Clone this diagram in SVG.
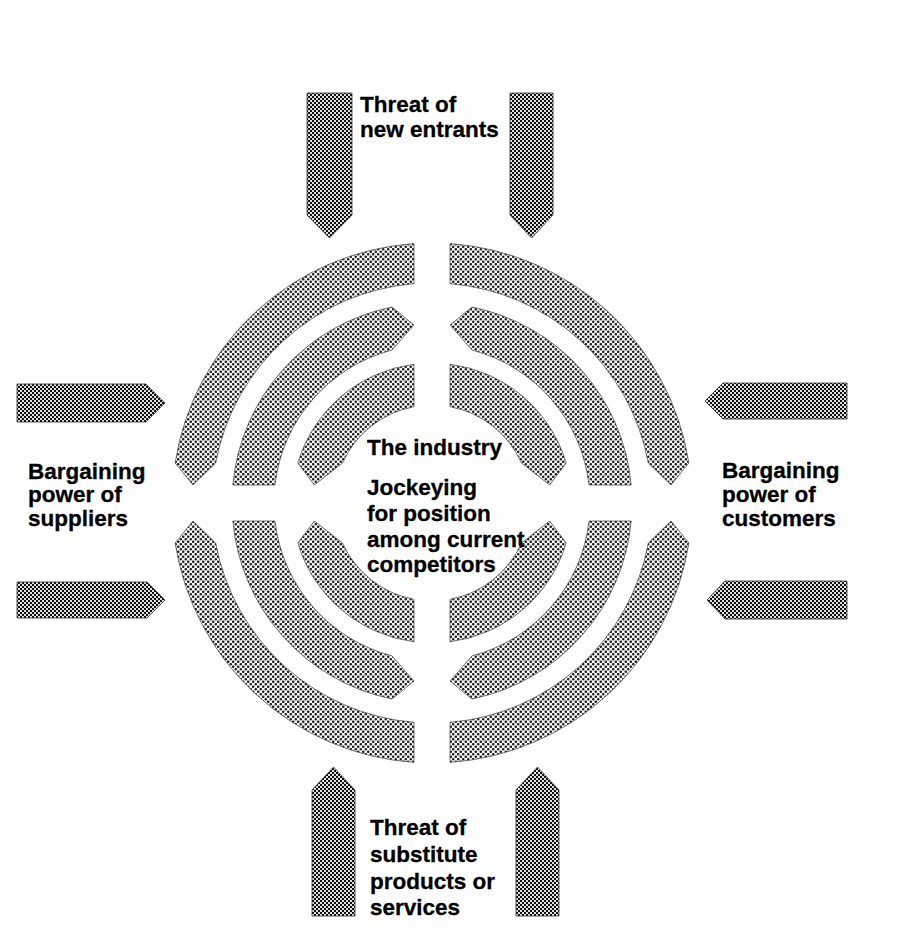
<svg xmlns="http://www.w3.org/2000/svg" xmlns:xlink="http://www.w3.org/1999/xlink" width="916" height="952" viewBox="0 0 916 952">
<style>
.t{font-family:"Liberation Sans",Arial,sans-serif;font-weight:bold;font-size:22.5px;fill:#000;stroke:#000;stroke-width:0.3}
.band{fill:url(#lt);stroke:#555;stroke-width:0.8}
.arr{fill:url(#dk);stroke:#333;stroke-width:0.8}
</style>
<defs>
<pattern id="lt" width="5" height="5" patternUnits="userSpaceOnUse">
<rect width="5" height="5" fill="#fff"/>
<circle cx="1.25" cy="1.25" r="1.3" fill="#222"/>
<circle cx="3.75" cy="3.75" r="1.3" fill="#222"/>
</pattern>
<pattern id="dk" width="4" height="4" patternUnits="userSpaceOnUse">
<rect width="4" height="4" fill="#e0e0e0"/>
<rect width="2" height="2" fill="#111"/>
<rect x="2" y="2" width="2" height="2" fill="#111"/>
</pattern>
<g id="q">
<path class="band" d="M -18,-259.4 A 260 260 0 0 0 -256.9,-40 L -239,-18 L -216.3,-40 A 220 220 0 0 1 -18,-219.3 Z"/>
<path class="band" d="M -199.2,-18 A 200 200 0 0 1 -40,-196 L -18,-178 L -40,-152.9 A 158 158 0 0 0 -157,-18 Z"/>
<path class="band" d="M -18,-138.8 A 140 140 0 0 0 -134.2,-40 L -117.6,-18 L -89.5,-40 A 98 98 0 0 1 -18,-96.3 Z"/>
</g>
</defs>
<rect width="916" height="952" fill="#fff"/>
<g id="industry">
<g id="quadrant-tl"><use xlink:href="#q" href="#q" transform="translate(432,503)"/></g>
<g id="quadrant-tr"><use xlink:href="#q" href="#q" transform="translate(432,503) scale(-1,1)"/></g>
<g id="quadrant-bl"><use xlink:href="#q" href="#q" transform="translate(432,503) scale(1,-1)"/></g>
<g id="quadrant-br"><use xlink:href="#q" href="#q" transform="translate(432,503) scale(-1,-1)"/></g>
<g id="industry-label">
<text class="t" x="367" y="455">The industry</text>
<text class="t" x="367" y="495">Jockeying</text>
<text class="t" x="367" y="521">for position</text>
<text class="t" x="367" y="547">among current</text>
<text class="t" x="367" y="572">competitors</text>
</g>
</g>
<g id="connectors">
<polygon class="arr" points="307,93 352,93 352,215 329.5,238 307,215"/>
<polygon class="arr" points="510,93 553,93 553,215 531.5,238 510,215"/>
<polygon class="arr" points="17,384 146,384 165,403 146,422 17,422"/>
<polygon class="arr" points="17,582 147,582 165,600 147,618 17,618"/>
<polygon class="arr" points="847,383 723,383 705,401 723,419 847,419"/>
<polygon class="arr" points="847,581 725,581 707,600 725,619 847,619"/>
<polygon class="arr" points="312,916 355,916 355,790 333.5,767 312,790"/>
<polygon class="arr" points="516,916 559,916 559,790 537.5,767 516,790"/>
</g>
<g id="new-entrants">
<text class="t" x="360" y="112">Threat of</text>
<text class="t" x="360" y="137">new entrants</text>
</g>
<g id="suppliers">
<text class="t" x="28" y="479">Bargaining</text>
<text class="t" x="28" y="502">power of</text>
<text class="t" x="28" y="526">suppliers</text>
</g>
<g id="customers">
<text class="t" x="722" y="478">Bargaining</text>
<text class="t" x="722" y="502">power of</text>
<text class="t" x="722" y="526">customers</text>
</g>
<g id="substitutes">
<text class="t" x="370" y="835">Threat of</text>
<text class="t" x="370" y="862">substitute</text>
<text class="t" x="370" y="889">products or</text>
<text class="t" x="370" y="915">services</text>
</g>
</svg>
